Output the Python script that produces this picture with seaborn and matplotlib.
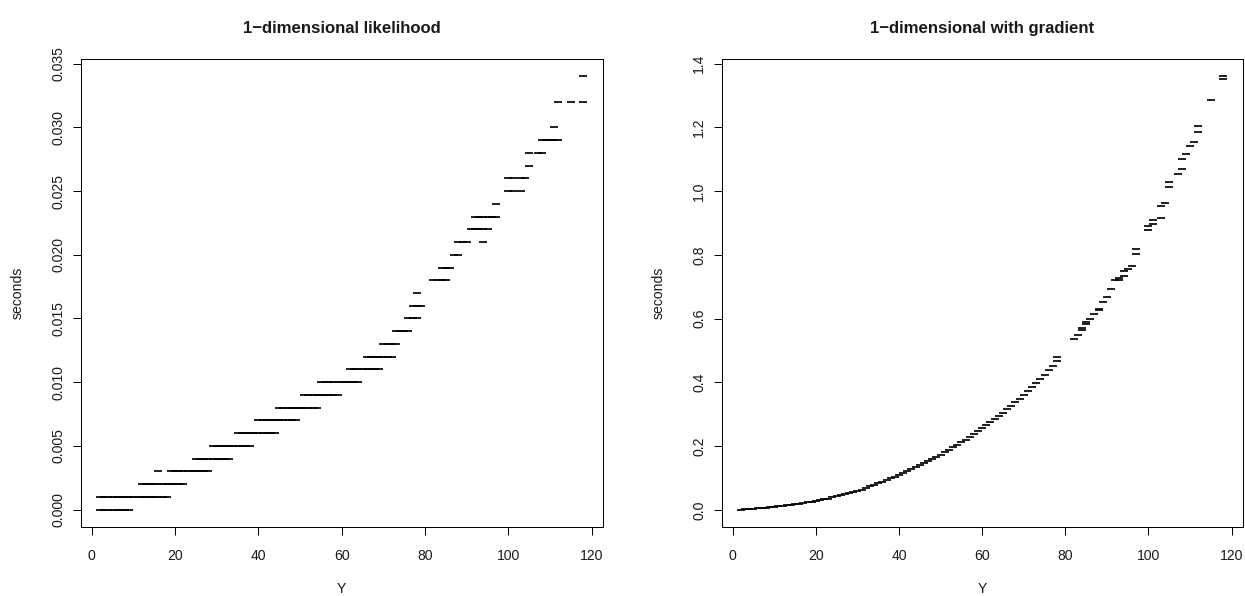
import matplotlib
matplotlib.use("Agg")
import matplotlib.pyplot as plt
from matplotlib.ticker import FormatStrFormatter
import seaborn as sns
import pandas as pd

# ---- timings of the 1-dimensional likelihood (seconds, 1 ms resolution) ----
lik_Y = [
    2, 3, 4, 5, 6, 7, 8, 9,
    2, 3, 4, 5, 6, 7, 8, 9, 10, 11, 12, 13, 14, 15, 16, 17, 18,
    12, 13, 14, 15, 16, 17, 18, 19, 20, 21, 22,
    16, 19, 20, 21, 22, 23, 24, 25, 26, 27, 28,
    25, 26, 27, 28, 29, 30, 31, 32, 33,
    29, 30, 31, 32, 33, 34, 35, 36, 37, 38,
    35, 36, 37, 38, 39, 40, 41, 42, 43, 44,
    40, 41, 42, 43, 44, 45, 46, 47, 48, 49,
    45, 46, 47, 48, 49, 50, 51, 52, 53, 54,
    51, 52, 53, 54, 55, 56, 57, 58, 59,
    55, 56, 57, 58, 59, 60, 61, 62, 63, 64,
    62, 63, 64, 65, 66, 67, 68, 69,
    66, 67, 68, 69, 70, 71, 72,
    70, 71, 72, 73,
    73, 74, 75, 76,
    76, 77, 78,
    77, 78, 79,
    78,
    82, 83, 84, 85,
    84, 85, 86,
    87, 88,
    88, 89, 90, 94,
    91, 92, 93, 94, 95,
    92, 93, 94, 95, 96, 97,
    97,
    100, 101, 103,
    100, 101, 103, 104,
    105,
    105, 107, 108,
    108, 109, 110, 111, 112,
    111,
    112, 115, 118,
    118,
]
lik_sec = (
    [0.000] * 8 + [0.001] * 17 + [0.002] * 11 + [0.003] * 11 + [0.004] * 9
    + [0.005] * 10 + [0.006] * 10 + [0.007] * 10 + [0.008] * 10 + [0.009] * 9
    + [0.010] * 10 + [0.011] * 8 + [0.012] * 7 + [0.013] * 4 + [0.014] * 4
    + [0.015] * 3 + [0.016] * 3 + [0.017] * 1 + [0.018] * 4 + [0.019] * 3
    + [0.020] * 2 + [0.021] * 4 + [0.022] * 5 + [0.023] * 6 + [0.024] * 1
    + [0.025] * 3 + [0.026] * 4 + [0.027] * 1 + [0.028] * 3 + [0.029] * 5
    + [0.030] * 1 + [0.032] * 3 + [0.034] * 1
)

# ---- timings of the likelihood together with its gradient (seconds) ----
grad_Y = [
    2, 3, 4, 5, 6, 7, 8, 9, 10, 11, 12, 13, 14, 15, 16, 17, 18, 19, 20,
    21, 22, 23, 24, 25, 26, 27, 28, 29, 30, 31, 32, 33, 34, 35, 36, 37, 38,
    39, 40, 41, 42, 43, 44, 45, 46, 47, 48, 49, 50, 51, 52, 53, 54, 55, 56,
    57, 58, 59, 60, 61, 62, 63, 64, 65, 66, 67, 68, 69, 70, 71, 72, 73, 74,
    75, 76, 77, 78, 78,
    82, 83, 84, 84, 85, 85, 86, 87, 88, 88, 89, 90, 91, 92, 93, 93, 94, 94,
    95, 96, 97, 97, 100, 100, 101, 101, 103, 103, 104, 105, 105, 107, 108,
    108, 109, 110, 111, 112, 112, 115, 118, 118,
]
grad_sec = [
    0.001, 0.002, 0.003, 0.004, 0.005, 0.006, 0.007, 0.008, 0.010, 0.011,
    0.013, 0.015, 0.017, 0.019, 0.020, 0.022, 0.024, 0.026, 0.028, 0.030,
    0.033, 0.036, 0.040, 0.043, 0.046, 0.049, 0.052, 0.056, 0.060, 0.064,
    0.069, 0.074, 0.079, 0.084, 0.089, 0.094, 0.100, 0.105, 0.111, 0.116,
    0.122, 0.128, 0.134, 0.140, 0.146, 0.153, 0.160, 0.167, 0.174, 0.181,
    0.189, 0.196, 0.204, 0.212, 0.220, 0.229, 0.238, 0.247, 0.256, 0.265,
    0.275, 0.285, 0.295, 0.305, 0.316, 0.327, 0.338, 0.349, 0.361, 0.373,
    0.385, 0.398, 0.411, 0.424, 0.438, 0.452, 0.466, 0.480,
    0.535, 0.548, 0.565, 0.570, 0.583, 0.588, 0.599, 0.614, 0.628, 0.631,
    0.652, 0.668, 0.694, 0.721, 0.721, 0.727, 0.734, 0.748, 0.756, 0.765,
    0.803, 0.818, 0.878, 0.890, 0.896, 0.909, 0.915, 0.954, 0.962, 1.013,
    1.028, 1.054, 1.070, 1.100, 1.116, 1.141, 1.155, 1.186, 1.204, 1.285,
    1.352, 1.360,
]

panels = [
    ("1\u2212dimensional likelihood", lik_Y, lik_sec,
     [0.0, 0.005, 0.010, 0.015, 0.020, 0.025, 0.030, 0.035], "%.3f"),
    ("1\u2212dimensional with gradient", grad_Y, grad_sec,
     [0.0, 0.2, 0.4, 0.6, 0.8, 1.0, 1.2, 1.4], "%.1f"),
]
x_ticks = [0, 20, 40, 60, 80, 100, 120]

sns.set_style("ticks")
plt.rcParams["font.family"] = ["Liberation Sans", "DejaVu Sans"]
plt.rcParams["axes.unicode_minus"] = False

W, H = 1245, 596
fig = plt.figure(figsize=(W / 100, H / 100), dpi=100)
fig.patch.set_facecolor("white")

# plot regions in pixels: (left, top, right, bottom)
boxes = [(80.7, 59.0, 602.7, 527.0), (721.7, 59.0, 1242.6, 527.0)]

PX = 0.72  # points per pixel at 100 dpi
FS = 14.0 * PX  # tick and axis label size
FT = 16.8 * PX  # title size

for (title, ys, secs, yt, fmt), (l, t, r, b) in zip(panels, boxes):
    ax = fig.add_axes([l / W, (H - b) / H, (r - l) / W, (b - t) / H])
    df = pd.DataFrame({"Y": ys, "seconds": secs})
    sns.scatterplot(data=df, x="Y", y="seconds", marker="_", s=(8 * PX) ** 2,
                    color="black", linewidth=1.7 * PX, ax=ax, legend=False)

    # 4% padding of the data range on each side
    x0, x1 = df["Y"].min(), df["Y"].max()
    y0, y1 = df["seconds"].min(), df["seconds"].max()
    dx, dy = 0.04 * (x1 - x0), 0.04 * (y1 - y0)
    ax.set_xlim(x0 - dx, x1 + dx)
    ax.set_ylim(y0 - dy, y1 + dy)

    ax.set_xticks(x_ticks)
    ax.set_yticks(yt)
    ax.yaxis.set_major_formatter(FormatStrFormatter(fmt))
    ax.tick_params(axis="both", direction="out", length=8.4 * PX,
                   width=1.0 * PX, color="black", labelsize=FS,
                   labelcolor="#1a1a1a")
    ax.tick_params(axis="x", pad=10.0)
    ax.tick_params(axis="y", pad=5.0)
    for lab in ax.get_yticklabels():
        lab.set_rotation(90)
        lab.set_va("center")
        lab.set_ha("right")
    for sp in ax.spines.values():
        sp.set_visible(True)
        sp.set_color("black")
        sp.set_linewidth(1.0 * PX)

    ax.set_xlabel("Y", fontsize=FS, labelpad=13.5, color="#1a1a1a")
    ax.set_ylabel("seconds", fontsize=FS, labelpad=19, color="#1a1a1a")
    ax.set_title(title, fontsize=FT, fontweight="bold", pad=19,
                 color="#1a1a1a")

fig.savefig("out.png", dpi=100, facecolor="white")
